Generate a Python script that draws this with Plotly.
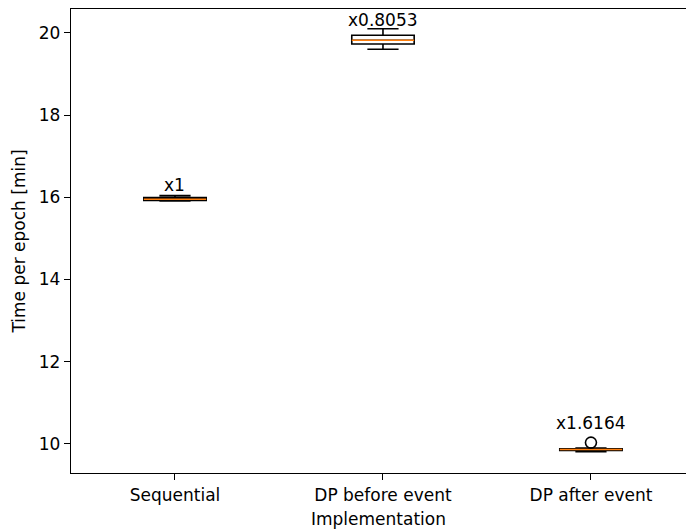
import plotly.graph_objects as go

categories = ["Sequential", "DP before event", "DP after event"]
positions = [1, 2, 3]
lower_whisker = [15.91, 19.60, 9.81]
q1 = [15.92, 19.73, 9.84]
median = [15.95, 19.82, 9.86]
q3 = [15.99, 19.94, 9.88]
upper_whisker = [16.04, 20.10, 9.90]
outlier_x = [3]
outlier_y = [10.03]
speedup_labels = ["x1", "x0.8053", "x1.6164"]
label_y = [16.30, 20.32, 10.51]

BOX_W = 0.3
LW = 1.6
FONT = "DejaVu Sans"
FS = 17

fig = go.Figure()
fig.add_trace(go.Box(
    x=positions, q1=q1, median=median, q3=q3,
    lowerfence=lower_whisker, upperfence=upper_whisker,
    width=BOX_W, whiskerwidth=0.5, boxpoints=False,
    line=dict(color="black", width=LW), fillcolor="rgba(0,0,0,0)",
    showlegend=False, hoverinfo="skip",
))
for p, m in zip(positions, median):
    fig.add_trace(go.Scatter(
        x=[p - BOX_W / 2, p + BOX_W / 2], y=[m, m], mode="lines",
        line=dict(color="#ff7f0e", width=LW), showlegend=False, hoverinfo="skip",
    ))
fig.add_trace(go.Scatter(
    x=outlier_x, y=outlier_y, mode="markers",
    marker=dict(symbol="circle-open", size=11, color="black", line=dict(width=LW)),
    showlegend=False, hoverinfo="skip",
))

for p, t, y in zip(positions, speedup_labels, label_y):
    fig.add_annotation(x=p, y=y, text=t, showarrow=False, xref="x", yref="y",
                       font=dict(family=FONT, size=FS, color="black"))

axis_common = dict(
    showline=True, linecolor="black", linewidth=1.4, ticks="outside", ticklen=6,
    tickwidth=1.4, tickcolor="black", showgrid=False, zeroline=False,
    tickfont=dict(family=FONT, size=FS, color="black"),
)
fig.update_xaxes(
    range=[0.5, 3.457], tickvals=positions, ticktext=categories, mirror=True,
    title=dict(text="Implementation", font=dict(family=FONT, size=FS, color="black"), standoff=9),
    **axis_common,
)
fig.update_yaxes(
    range=[9.29, 20.58], tickvals=[10, 12, 14, 16, 18, 20], mirror=False,
    title=dict(text="Time per epoch [min]", font=dict(family=FONT, size=FS, color="black"), standoff=8),
    **axis_common,
)
fig.update_layout(
    width=686, height=529, margin=dict(l=71, r=0, t=9, b=56),
    plot_bgcolor="white", paper_bgcolor="white",
    font=dict(family=FONT, size=FS, color="black"),
)
fig.write_html("out.html", config={"displayModeBar": False},
               post_script="document.body.style.margin='0';")
